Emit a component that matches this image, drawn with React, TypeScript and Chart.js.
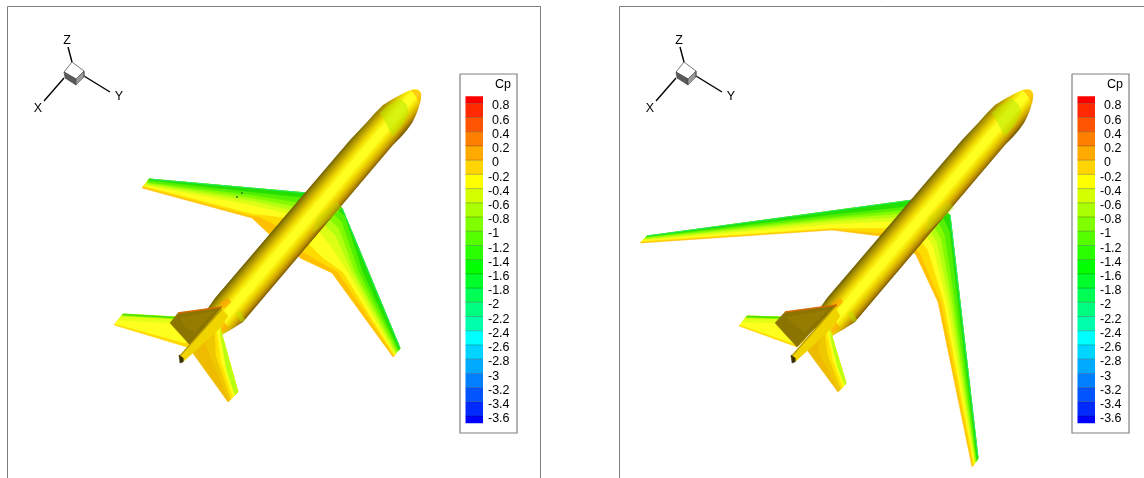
import React, { useEffect, useRef } from "react";
import { Chart, registerables } from "chart.js";

Chart.register(...registerables);

type Pt = [number, number];

const WIDTH = 1144;
const HEIGHT = 478;
const PANEL_SHIFT = 612;

// Colour bar
const cpTickLabels = ["0.8","0.6","0.4","0.2","0","-0.2","-0.4","-0.6","-0.8","-1","-1.2","-1.4","-1.6","-1.8","-2","-2.2","-2.4","-2.6","-2.8","-3","-3.2","-3.4","-3.6"];
const cpLevels = [0.9,0.8,0.6,0.4,0.2,0,-0.2,-0.4,-0.6,-0.8,-1,-1.2,-1.4,-1.6,-1.8,-2,-2.2,-2.4,-2.6,-2.8,-3,-3.2,-3.4,-3.6,-3.7];
const cpColours = ["#ff0000","#ff2a00","#ff5500","#ff8000","#ffaa00","#ffd400","#ffff00","#d4ff00","#aaff00","#80ff00","#55ff00","#2aff00","#00ff00","#00ff2a","#00ff55","#00ff80","#00ffaa","#00ffff","#00d4ff","#00aaff","#0080ff","#0055ff","#002aff","#0000ff"];

// Contour layers painted from the trailing edge to the leading edge
const wingColours = ["#ffc000","#ffdc00","#ffff1e","#dcff14","#b4ff10","#84fa00","#54f000","#24e000"];
const lowerTailColours = ["#eebb00","#f0c800","#ffe400","#ffff1e","#b8ff10"];
const upperTailColours = ["#ffd800","#ffff1e","#e2ff14","#a0f800","#40e000"];
const rimColour = "#1ce8a0";

const leftSweptLead: Pt[] = [[330,196],[307,193],[149,179]];
const leftSweptContours: Pt[][] = [
  [[142,188],[252,218],[270,235],[295,240]],
  [[143,187],[252,216],[258,216],[285,230]],
  [[144,186],[252,213.5],[290,218],[310,227]],
  [[145,185],[252,205],[310,219]],
  [[146,184],[252,201],[310,214]],
  [[147,183],[252,198],[310,209]],
  [[148,182],[252,195],[310,204]],
  [[149,180],[252,192],[310,198]],
];
const leftSweptRim: Pt[] = [[149,179],[307,193]];
const leftLowerLead: Pt[] = [[333,200],[342,208],[400,348]];
const leftLowerContours: Pt[][] = [
  [[393,357],[332,273],[300,258],[290,245]],
  [[394,356],[338,272],[322,263],[300,250]],
  [[394.5,355],[343,272],[322,257],[305,240]],
  [[395,354],[348,272],[330,245],[318,230]],
  [[396,353],[352,272],[336,236],[322,222]],
  [[397,352],[355,272],[339,228],[326,216]],
  [[398,351],[359,272],[342,222],[330,210]],
  [[399,350],[363,272],[345,216],[333,205]],
];
const leftLowerRim: Pt[] = [[342,208],[400,348]];
const leftTailLowerLead: Pt[] = [[220,328],[238,392]];
const leftTailLowerContours: Pt[][] = [
  [[228,402],[192,352],[205,340]],
  [[229,401],[206,345],[212,332]],
  [[231,399],[216,355],[215,330]],
  [[233,397],[221,360],[217,330]],
  [[235,395],[227,372],[221,338]],
];
const leftTailUpperLead: Pt[] = [[195,320],[175,317],[123,314]];
const leftTailUpperContours: Pt[][] = [
  [[114,325],[190,348],[195,340]],
  [[115,324],[185,343],[195,335]],
  [[118,320],[175,323],[195,325]],
  [[121,316],[175,319],[195,322]],
  [[123,315],[175,318],[195,320]],
];
const leftFin: Pt[] = [[170,323],[178,313],[222,307],[190,345]];
const leftFinPatch: Pt[] = [[180,318],[215,311],[195,332],[186,328]];
const leftFinEdge: Pt[] = [[178,313],[222,307]];
const leftTailStrip: Pt[] = [[179,357],[222,309],[228,316],[220,328],[184,361]];
const leftStripShade: Pt[] = [[179,357],[222,309]];
const leftNozzle: Pt[] = [[179,355],[183,358],[183,362],[180,363]];

const rightSweptLead: Pt[] = [[940,205],[913,200],[647,236]];
const rightSweptContours: Pt[][] = [
  [[640,243],[832,230],[880,236],[905,240]],
  [[641,242],[832,229],[878,233],[900,230]],
  [[642,241],[832,228],[915,228]],
  [[643,240],[832,224],[915,220]],
  [[644,239],[832,221],[915,216]],
  [[645,238],[832,219],[920,212]],
  [[646,237],[832,217],[925,208]],
  [[646.5,236.5],[832,214.5],[930,204]],
];
const rightSweptRim: Pt[] = [[647,236],[913,200]];
const rightLowerLead: Pt[] = [[935,205],[950,215],[978,458]];
const rightLowerContours: Pt[][] = [
  [[972,467],[938,302],[916,255],[905,245]],
  [[973,466],[941,302],[921,255],[910,240]],
  [[974,464],[944,302],[928,250],[915,234]],
  [[975,463],[947,302],[933,246],[922,228]],
  [[975.5,462.5],[950,302],[937,242],[926,224]],
  [[976,462],[952.5,302],[941,238],[930,220]],
  [[976.5,461],[955,302],[945,235],[935,215]],
  [[977,460],[958,302],[950,232],[940,210]],
];
const rightLowerRim: Pt[] = [[950,215],[978,458]];
const rightTailLowerLead: Pt[] = [[830,330],[846,383]];
const rightTailLowerContours: Pt[][] = [
  [[838,392],[807,350],[818,338]],
  [[839,391],[818,350],[823,334]],
  [[841,389],[828,355],[825,332]],
  [[843,387],[833,360],[827,331]],
  [[845,385],[838,368],[831,340]],
];
const rightTailUpperLead: Pt[] = [[805,320],[780,317],[747,316]];
const rightTailUpperContours: Pt[][] = [
  [[739,326],[797,347],[805,340]],
  [[740,325],[795,344],[805,335]],
  [[742,322],[785,323],[805,325]],
  [[745,318],[780,319],[805,322]],
  [[747,317],[780,318],[805,320]],
];
const rightFin: Pt[] = [[775,323],[785,312],[837,305],[797,347]];
const rightFinPatch: Pt[] = [[787,317],[828,310],[805,332],[795,326]];
const rightFinEdge: Pt[] = [[785,312],[837,305]];
const rightTailStrip: Pt[] = [[791,357],[835,307],[840,316],[832,328],[796,361]];
const rightStripShade: Pt[] = [[791,357],[835,307]];
const rightNozzle: Pt[] = [[791,355],[795,358],[795,362],[792,363]];

// Fuselage, drawn in the left panel's position
const fuselage: Pt[] = [[415,89],[408,91],[400,95],[391,100],[383,105],[375,113],[367,122],[350,140],[215,298],[208,308],[200,320],[205,340],[220,336],[232,329],[243,322],[393,145],[401,137],[407,130],[412,123],[415,117],[418,110],[420,103],[421,97],[421,93],[419,90]];
const noseGreen: Pt[] = [[380,113],[388,106],[400,99],[406,104],[409,112],[403,124],[393,136],[388,127],[384,119]];
const noseTip: Pt[] = [[411,90],[418,90],[421,94],[420,103],[416,96]];
const rootPatch: Pt[] = [[313,233],[317,217],[337,202],[342,208]];
const tailPatchA: Pt[] = [[220,303],[228,298],[231,302],[224,309]];
const tailPatchB: Pt[] = [[216,326],[224,322],[228,328],[220,333]];
const tailPatchC: Pt[] = [[236,313],[240,311],[245,320],[241,322]];
const fuselageStops = [0,0.08,0.2,0.32,0.45,0.62,0.74,0.87,0.96,1];
const fuselageColours = ["#6e5e00","#9a8600","#ccb000","#f0dc00","#ffff20","#ffff20","#f2de00","#d4ac00","#a87e00","#806000"];

// Orientation triad
const triadCubeTop: Pt[] = [[72,62],[84,71],[76,79],[64,72]];
const triadCubeLeft: Pt[] = [[64,72],[76,79],[76,85],[65,78]];
const triadCubeRight: Pt[] = [[84,71],[84,77],[76,85],[76,79]];
const triadAxisX: Pt[] = [[64,78],[44,101]];
const triadAxisY: Pt[] = [[84,76],[110,92]];
const triadAxisZ: Pt[] = [[72,62],[68,47]];
const triadLabels: { text: string; at: Pt }[] = [
  { text: "X", at: [38, 109] },
  { text: "Y", at: [119, 97] },
  { text: "Z", at: [67, 41] },
];

const leftWingSpecks: Pt[] = [[242,193],[237,197]];

// Frames and legend boxes
const leftFrame: Pt[] = [[7.5,478],[7.5,6.5],[540.5,6.5],[540.5,478]];
const rightFrame: Pt[] = [[619.5,478],[619.5,6.5],[1144,6.5]];
const legendBox: Pt[] = [[460,74],[517,74],[517,433],[460,433]];
const barLeft = 465.5;
const barRight = 483;

// cp axis spans the whole canvas height so that the bar falls where it does in the picture
const cpAxisTop = 2.2535;
const cpAxisBottom = -4.472;

const shiftPts = (pts: Pt[], dx: number): Pt[] => pts.map(([x, y]) => [x + dx, y] as Pt);
const toXY = (pts: Pt[]) => pts.map(([x, y]) => ({ x, y }));

const shape = (pts: Pt[], colour: any, extra: any = {}) => ({
  type: "scatter" as const,
  data: toXY([...pts, pts[0]]),
  showLine: true,
  fill: "shape",
  backgroundColor: colour,
  borderColor: typeof colour === "string" ? colour : "rgba(0,0,0,0)",
  borderWidth: 0.5,
  pointRadius: 0,
  tension: 0,
  clip: false,
  ...extra,
});

const line = (pts: Pt[], colour: string, width: number) => ({
  type: "scatter" as const,
  data: toXY(pts),
  showLine: true,
  fill: false,
  borderColor: colour,
  borderWidth: width,
  pointRadius: 0,
  tension: 0,
  clip: false,
});

const layers = (lead: Pt[], contours: Pt[][], colours: string[]) =>
  contours.map((c, i) => shape([...lead, ...c], colours[i]));

function buildDatasets(ctx: CanvasRenderingContext2D) {
  const out: any[] = [];

  const fuselageSet = (dx: number) => {
    const g = ctx.createLinearGradient(280 + dx, 222, 307.4 + dx, 245.3);
    fuselageStops.forEach((s, i) => g.addColorStop(s, fuselageColours[i]));
    out.push(shape(shiftPts(fuselage, dx), g));
    out.push(shape(shiftPts(noseGreen, dx), "rgba(180,232,0,0.5)"));
    out.push(shape(shiftPts(noseTip, dx), "rgba(255,160,0,0.5)"));
    out.push(shape(shiftPts(rootPatch, dx), "rgba(190,230,0,0.35)"));
    out.push(shape(shiftPts(tailPatchA, dx), "rgba(255,150,0,0.55)"));
    out.push(shape(shiftPts(tailPatchB, dx), "rgba(255,150,0,0.55)"));
    out.push(shape(shiftPts(tailPatchC, dx), "rgba(190,230,0,0.5)"));
  };

  const triad = (dx: number) => {
    out.push(line(shiftPts(triadAxisX, dx), "#000000", 1.4));
    out.push(line(shiftPts(triadAxisY, dx), "#000000", 1.4));
    out.push(line(shiftPts(triadAxisZ, dx), "#000000", 1.4));
    out.push(shape(shiftPts(triadCubeTop, dx), "#ffffff", { borderColor: "#555555", borderWidth: 0.8 }));
    out.push(shape(shiftPts(triadCubeLeft, dx), "#5a5a5a", { borderColor: "#444444", borderWidth: 0.6 }));
    out.push(shape(shiftPts(triadCubeRight, dx), "#9a9a9a", { borderColor: "#555555", borderWidth: 0.6 }));
  };

  const legend = (dx: number) => {
    out.push(shape(shiftPts(legendBox, dx), "#ffffff", { borderColor: "#808080", borderWidth: 1.2 }));
    cpColours.forEach((c, i) => {
      out.push({
        type: "scatter" as const,
        yAxisID: "cp",
        data: [
          { x: barLeft + dx, y: cpLevels[i] },
          { x: barRight + dx, y: cpLevels[i] },
          { x: barRight + dx, y: cpLevels[i + 1] },
          { x: barLeft + dx, y: cpLevels[i + 1] },
          { x: barLeft + dx, y: cpLevels[i] },
        ],
        showLine: true,
        fill: "shape",
        backgroundColor: c,
        borderColor: c,
        borderWidth: 0,
        pointRadius: 0,
        tension: 0,
        clip: false,
      });
    });
    cpLevels.slice(1, -1).forEach((lv) => {
      out.push({
        type: "scatter" as const,
        yAxisID: "cp",
        data: [{ x: barLeft + dx, y: lv }, { x: barRight + dx, y: lv }],
        showLine: true,
        fill: false,
        borderColor: "rgba(0,0,0,0.25)",
        borderWidth: 1,
        pointRadius: 0,
        clip: false,
      });
    });
  };

  // frames
  out.push(line(leftFrame, "#7f7f7f", 1));
  out.push(line(rightFrame, "#7f7f7f", 1));

  // left aircraft
  out.push(...layers(leftTailUpperLead, leftTailUpperContours, upperTailColours));
  out.push(...layers(leftSweptLead, leftSweptContours, wingColours));
  out.push(line(leftSweptRim, rimColour, 0.7));
  out.push(...layers(leftLowerLead, leftLowerContours, wingColours));
  out.push(line(leftLowerRim, rimColour, 0.8));
  out.push({ type: "scatter" as const, data: toXY(leftWingSpecks), pointRadius: 1, pointBackgroundColor: "#2a7a20", borderWidth: 0, clip: false });
  fuselageSet(0);
  out.push(...layers(leftTailLowerLead, leftTailLowerContours, lowerTailColours));
  out.push(shape(leftFin, "#8c7400"));
  out.push(shape(leftFinPatch, "#967c00"));
  out.push(line(leftFinEdge, "#d46a00", 1.6));
  out.push(shape(leftTailStrip, "#f0d400"));
  out.push(line(leftStripShade, "#b89a00", 1.2));
  out.push(shape(leftNozzle, "#3a3000"));

  // right aircraft
  out.push(...layers(rightTailUpperLead, rightTailUpperContours, upperTailColours));
  out.push(...layers(rightSweptLead, rightSweptContours, wingColours));
  out.push(line(rightSweptRim, rimColour, 0.7));
  out.push(...layers(rightLowerLead, rightLowerContours, wingColours));
  out.push(line(rightLowerRim, rimColour, 0.8));
  fuselageSet(PANEL_SHIFT);
  out.push(...layers(rightTailLowerLead, rightTailLowerContours, lowerTailColours));
  out.push(shape(rightFin, "#8c7400"));
  out.push(shape(rightFinPatch, "#967c00"));
  out.push(line(rightFinEdge, "#d46a00", 1.6));
  out.push(shape(rightTailStrip, "#f0d400"));
  out.push(line(rightStripShade, "#b89a00", 1.2));
  out.push(shape(rightNozzle, "#3a3000"));

  triad(0);
  triad(PANEL_SHIFT);
  legend(0);
  legend(PANEL_SHIFT);

  // Chart.js paints the first dataset last, so reverse to keep painter's order.
  return out.reverse();
}

const textPlugin = {
  id: "panelText",
  afterDatasetsDraw(chart: any) {
    const { ctx, scales } = chart;
    ctx.save();
    ctx.fillStyle = "#000000";
    ctx.textBaseline = "middle";
    [0, PANEL_SHIFT].forEach((dx) => {
      ctx.font = "12.5px 'Liberation Sans', Arial, sans-serif";
      ctx.textAlign = "left";
      cpTickLabels.forEach((label) => {
        const y = scales.cp.getPixelForValue(parseFloat(label)) + 2.7;
        const x = (label.startsWith("-") ? 488 : 492) + dx;
        ctx.fillText(label, scales.x.getPixelForValue(x), y);
      });
      ctx.fillText("Cp", scales.x.getPixelForValue(495 + dx), scales.y.getPixelForValue(85));
      ctx.textAlign = "center";
      triadLabels.forEach(({ text, at }) => {
        ctx.fillText(text, scales.x.getPixelForValue(at[0] + dx), scales.y.getPixelForValue(at[1]));
      });
    });
    ctx.restore();
  },
};

export default function App() {
  const ref = useRef<HTMLCanvasElement>(null);
  useEffect(() => {
    const canvas = ref.current!;
    const chart = new Chart(canvas, {
      type: "scatter",
      data: { datasets: buildDatasets(canvas.getContext("2d")!) },
      options: {
        animation: false,
        responsive: false,
        devicePixelRatio: 1,
        layout: { padding: 0, autoPadding: false },
        plugins: { legend: { display: false }, tooltip: { enabled: false }, title: { display: false } },
        scales: {
          x: { type: "linear", min: 0, max: WIDTH, display: false },
          y: { type: "linear", min: 0, max: HEIGHT, reverse: true, display: false },
          cp: { type: "linear", min: cpAxisBottom, max: cpAxisTop, display: false },
        },
      },
      plugins: [textPlugin],
    } as any);
    return () => chart.destroy();
  }, []);
  return (
    <canvas
      ref={ref}
      width={WIDTH}
      height={HEIGHT}
      style={{ position: "absolute", left: 0, top: 0, display: "block" }}
    />
  );
}
